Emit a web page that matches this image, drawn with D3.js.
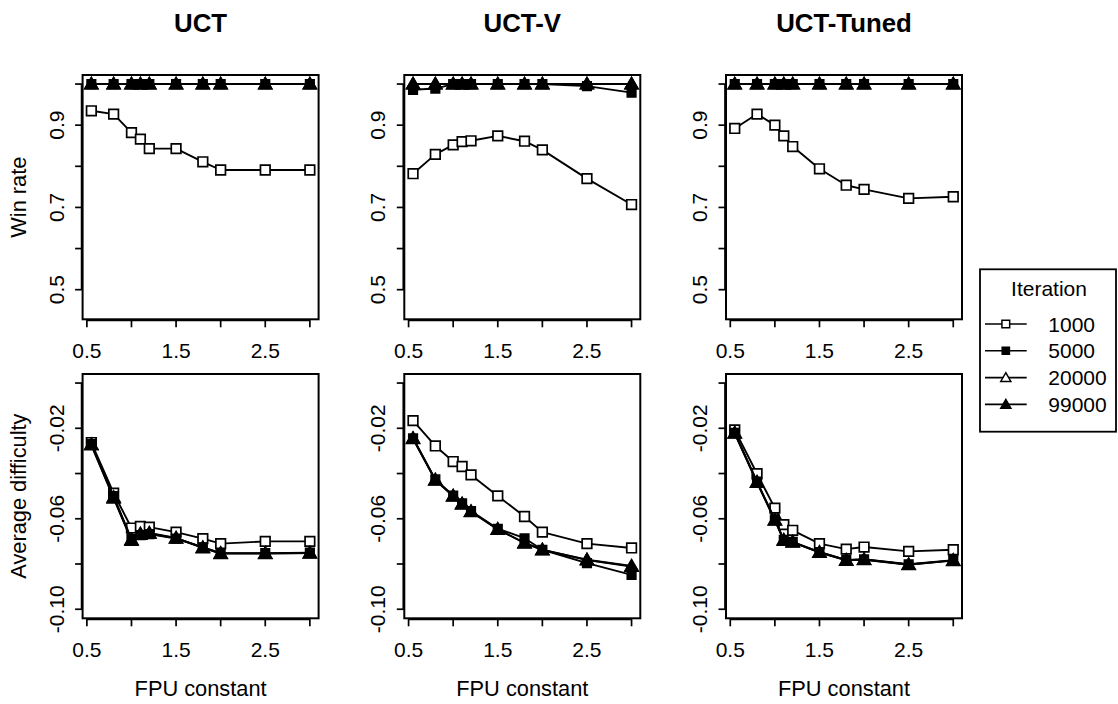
<!DOCTYPE html>
<html>
<head>
<meta charset="utf-8">
<script src="https://cdn.jsdelivr.net/npm/d3@7"></script>
<style>
  html, body { margin: 0; padding: 0; background: #fff; }
  svg { display: block; font-family: "Liberation Sans", Arial, Helvetica, sans-serif; }
</style>
</head>
<body>
<svg id="chart" width="1118" height="704"></svg>
<script>
// FPU constants tested
const fpu = [0.55, 0.8, 1.0, 1.1, 1.2, 1.5, 1.8, 2.0, 2.5, 3.0];

const algorithms = ["UCT", "UCT-V", "UCT-Tuned"];
const iterations = ["1000", "5000", "20000", "99000"];

// Win rate per algorithm and iteration budget
const uctWin1000   = [0.935, 0.927, 0.882, 0.866, 0.843, 0.843, 0.811, 0.791, 0.791, 0.791];
const uctWin5000   = [1, 1, 1, 1, 1, 1, 1, 1, 1, 1];
const uctWin20000  = [1, 1, 1, 1, 1, 1, 1, 1, 1, 1];
const uctWin99000  = [1, 1, 1, 1, 1, 1, 1, 1, 1, 1];

const uctvWin1000  = [0.782, 0.829, 0.852, 0.860, 0.862, 0.874, 0.861, 0.840, 0.770, 0.707];
const uctvWin5000  = [0.986, 0.989, 1, 1, 1, 1, 1, 1, 0.995, 0.979];
const uctvWin20000 = [1, 1, 1, 1, 1, 1, 1, 1, 1, 1];
const uctvWin99000 = [1, 1, 1, 1, 1, 1, 1, 1, 1, 1];

const tunedWin1000  = [0.892, 0.927, 0.900, 0.874, 0.848, 0.794, 0.754, 0.744, 0.722, 0.726];
const tunedWin5000  = [1, 1, 1, 1, 1, 1, 1, 1, 1, 1];
const tunedWin20000 = [1, 1, 1, 1, 1, 1, 1, 1, 1, 1];
const tunedWin99000 = [1, 1, 1, 1, 1, 1, 1, 1, 1, 1];

// Average difficulty per algorithm and iteration budget
const uctDiff1000   = [-0.0263, -0.0487, -0.0641, -0.0634, -0.0637, -0.0659, -0.0688, -0.0710, -0.0700, -0.0700];
const uctDiff5000   = [-0.0270, -0.0500, -0.0690, -0.0672, -0.0668, -0.0688, -0.0726, -0.0752, -0.0752, -0.0750];
const uctDiff20000  = [-0.0272, -0.0505, -0.0693, -0.0670, -0.0665, -0.0686, -0.0727, -0.0753, -0.0753, -0.0752];
const uctDiff99000  = [-0.0274, -0.0509, -0.0696, -0.0666, -0.0663, -0.0685, -0.0729, -0.0754, -0.0754, -0.0751];

const uctvDiff1000  = [-0.0166, -0.0278, -0.0347, -0.0369, -0.0406, -0.0499, -0.0590, -0.0659, -0.0710, -0.0729];
const uctvDiff5000  = [-0.0244, -0.0426, -0.0497, -0.0532, -0.0566, -0.0644, -0.0686, -0.0737, -0.0796, -0.0848];
const uctvDiff20000 = [-0.0246, -0.0430, -0.0500, -0.0536, -0.0569, -0.0647, -0.0706, -0.0738, -0.0781, -0.0809];
const uctvDiff99000 = [-0.0244, -0.0428, -0.0499, -0.0534, -0.0568, -0.0646, -0.0708, -0.0737, -0.0782, -0.0811];

const tunedDiff1000  = [-0.0207, -0.0401, -0.0553, -0.0626, -0.0651, -0.0710, -0.0734, -0.0725, -0.0744, -0.0737];
const tunedDiff5000  = [-0.0220, -0.0436, -0.0603, -0.0693, -0.0702, -0.0747, -0.0782, -0.0779, -0.0801, -0.0783];
const tunedDiff20000 = [-0.0221, -0.0438, -0.0605, -0.0694, -0.0703, -0.0748, -0.0783, -0.0780, -0.0802, -0.0785];
const tunedDiff99000 = [-0.0222, -0.0440, -0.0607, -0.0696, -0.0704, -0.0749, -0.0784, -0.0781, -0.0803, -0.0784];

// Axis ticks and labels
const xTicks = [0.5, 1.0, 1.5, 2.0, 2.5, 3.0];
const xTickLabels = ["0.5", "1.5", "2.5"];
const winTicks = [0.5, 0.6, 0.7, 0.8, 0.9, 1.0];
const winTickLabels = ["0.5", "0.7", "0.9"];
const diffTicks = [-0.10, -0.08, -0.06, -0.04, -0.02, 0.0];
const diffTickLabels = ["-0.10", "-0.06", "-0.02"];

const winRate = {
  "UCT":       [uctWin1000, uctWin5000, uctWin20000, uctWin99000],
  "UCT-V":     [uctvWin1000, uctvWin5000, uctvWin20000, uctvWin99000],
  "UCT-Tuned": [tunedWin1000, tunedWin5000, tunedWin20000, tunedWin99000]
};
const difficulty = {
  "UCT":       [uctDiff1000, uctDiff5000, uctDiff20000, uctDiff99000],
  "UCT-V":     [uctvDiff1000, uctvDiff5000, uctvDiff20000, uctvDiff99000],
  "UCT-Tuned": [tunedDiff1000, tunedDiff5000, tunedDiff20000, tunedDiff99000]
};

// ---- layout ----
const svg = d3.select("#chart");
const colLeft = [82.6, 404.3, 726.0];
const panelW = 236;
const rowTop = [75, 374];
const panelH = 244.3;
const TICK_FONT = 21;
const LABEL_FONT = 21.8;

// base-graphics style 4% padding around data range
function padded(lo, hi) {
  const p = 0.04 * (hi - lo);
  return [lo - p, hi + p];
}

// marker shapes: open square, filled square, open triangle, filled triangle
const markerStyles = [
  { shape: d3.symbolSquare,   fill: "#fff", sizePanel: 92,  sizeLegend: 60 },
  { shape: d3.symbolSquare,   fill: "#000", sizePanel: 72,  sizeLegend: 52 },
  { shape: d3.symbolTriangle, fill: "#fff", sizePanel: 70,  sizeLegend: 44 },
  { shape: d3.symbolTriangle, fill: "#000", sizePanel: 70,  sizeLegend: 44 }
];

function drawPanel(ci, ri, seriesList, yLim, yTicks, yLabels, yTitle, showXTitle) {
  const left = colLeft[ci], top = rowTop[ri];
  const x = d3.scaleLinear().domain(padded(0.55, 3.0)).range([left, left + panelW]);
  const y = d3.scaleLinear().domain(padded(yLim[0], yLim[1])).range([top + panelH, top]);
  const g = svg.append("g");

  // series
  const line = d3.line().x((d, i) => x(fpu[i])).y(d => y(d));
  seriesList.forEach((vals, si) => {
    g.append("path").attr("d", line(vals))
      .attr("fill", "none").attr("stroke", "#000").attr("stroke-width", 1.9)
      .attr("stroke-linejoin", "round");
    const ms = markerStyles[si];
    const sym = d3.symbol().type(ms.shape).size(ms.sizePanel);
    g.selectAll(null).data(vals).enter().append("path")
      .attr("d", sym)
      .attr("transform", (d, i) => {
        const dy = ms.shape === d3.symbolTriangle ? 1 : 0;
        return `translate(${x(fpu[i])},${y(d) + dy})`;
      })
      .attr("fill", ms.fill).attr("stroke", "#000").attr("stroke-width", 1.7);
  });

  // box
  g.append("rect").attr("x", left).attr("y", top).attr("width", panelW).attr("height", panelH)
    .attr("fill", "none").attr("stroke", "#000").attr("stroke-width", 2);

  // x axis
  const bottom = top + panelH;
  const xa = g.append("g");
  xa.append("line").attr("x1", x(xTicks[0])).attr("x2", x(xTicks[xTicks.length - 1]))
    .attr("y1", bottom + 1).attr("y2", bottom + 1).attr("stroke", "#000").attr("stroke-width", 1.7);
  xa.selectAll(null).data(xTicks).enter().append("line")
    .attr("x1", d => x(d)).attr("x2", d => x(d)).attr("y1", bottom).attr("y2", bottom + 8)
    .attr("stroke", "#000").attr("stroke-width", 1.7);
  xa.selectAll(null).data(xTickLabels).enter().append("text")
    .attr("x", d => x(+d)).attr("y", bottom + 38.4).attr("text-anchor", "middle")
    .attr("font-size", TICK_FONT).text(d => d);

  // y axis
  const ya = g.append("g");
  ya.append("line").attr("x1", left - 1).attr("x2", left - 1)
    .attr("y1", y(yTicks[0])).attr("y2", y(yTicks[yTicks.length - 1]))
    .attr("stroke", "#000").attr("stroke-width", 1.7);
  ya.selectAll(null).data(yTicks).enter().append("line")
    .attr("x1", left).attr("x2", left - 7.5).attr("y1", d => y(d)).attr("y2", d => y(d))
    .attr("stroke", "#000").attr("stroke-width", 1.7);
  ya.selectAll(null).data(yLabels).enter().append("text")
    .attr("transform", d => `translate(${left - 19},${y(+d)}) rotate(-90)`)
    .attr("text-anchor", "middle").attr("font-size", TICK_FONT).text(d => d);

  if (yTitle) {
    g.append("text")
      .attr("transform", `translate(${left - 56.3},${top + panelH / 2}) rotate(-90)`)
      .attr("text-anchor", "middle").attr("font-size", LABEL_FONT).text(yTitle);
  }
  if (showXTitle) {
    g.append("text").attr("x", left + panelW / 2).attr("y", bottom + 78)
      .attr("text-anchor", "middle").attr("font-size", LABEL_FONT).text("FPU constant");
  }
}

algorithms.forEach((alg, ci) => {
  // column title
  svg.append("text").attr("x", colLeft[ci] + panelW / 2).attr("y", 32)
    .attr("text-anchor", "middle").attr("font-size", 25.8).attr("font-weight", "bold").text(alg);
  drawPanel(ci, 0, winRate[alg], [0.45, 1.0], winTicks, winTickLabels, ci === 0 ? "Win rate" : null, false);
  drawPanel(ci, 1, difficulty[alg], [-0.1, 0.0], diffTicks, diffTickLabels, ci === 0 ? "Average difficulty" : null, true);
});

// ---- legend ----
const lg = svg.append("g");
lg.append("rect").attr("x", 980).attr("y", 269.3).attr("width", 136).attr("height", 162.4)
  .attr("fill", "#fff").attr("stroke", "#000").attr("stroke-width", 1.8);
lg.append("text").attr("x", 1049).attr("y", 296).attr("text-anchor", "middle")
  .attr("font-size", TICK_FONT).text("Iteration");
const rowY = d3.scalePoint().domain(iterations).range([324, 404.3]);
iterations.forEach((it, i) => {
  const cy = rowY(it);
  lg.append("line").attr("x1", 985).attr("x2", 1026.7).attr("y1", cy).attr("y2", cy)
    .attr("stroke", "#000").attr("stroke-width", 1.7);
  const ms = markerStyles[i];
  const dy = ms.shape === d3.symbolTriangle ? 1 : 0;
  lg.append("path").attr("d", d3.symbol().type(ms.shape).size(ms.sizeLegend))
    .attr("transform", `translate(1005.8,${cy + dy})`)
    .attr("fill", ms.fill).attr("stroke", "#000").attr("stroke-width", 1.5);
  lg.append("text").attr("x", 1048.3).attr("y", cy + 7.5).attr("font-size", TICK_FONT).text(it);
});
</script>
</body>
</html>
